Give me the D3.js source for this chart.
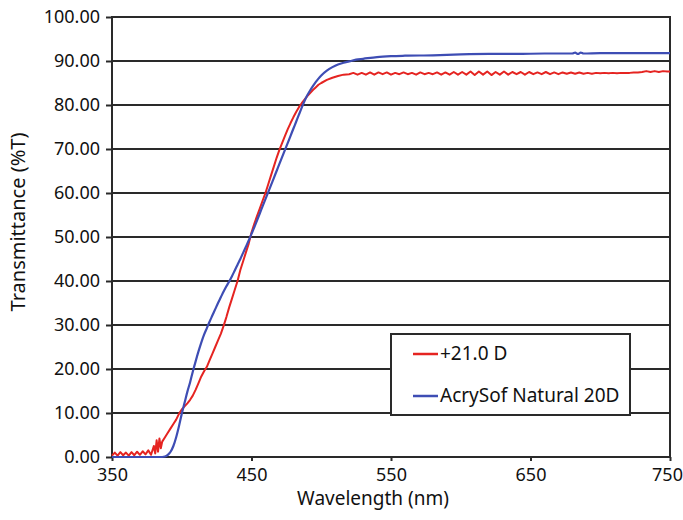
<!DOCTYPE html>
<html>
  <head>
    <meta charset="UTF-8">
    <script src="https://d3js.org/d3.v7.min.js"></script>
    <style>
      body {
        margin: 0;
        background: #fff;
        font-family: "Noto Sans", "Open Sans", sans-serif;
      }
      svg text {
        fill: #111;
      }
    </style>
  </head>
  <body>
    <svg id="chart" width="683" height="520"></svg>
    <script>
      // +21.0 D lens (red)
      const redWavelength = [
        350, 352, 354, 356, 358, 360, 362, 364, 366, 368, 370, 372, 374, 376, 378, 380, 381, 382, 383, 384, 385, 386, 388,
        390, 392, 394, 396, 398, 400, 402, 404, 406, 408, 410, 412, 414, 416, 418, 420, 422, 424, 426, 428, 430, 432, 434,
        436, 438, 440, 442, 444, 446, 448, 450, 452, 454, 456, 458, 460, 462, 464, 466, 468, 470, 472, 474, 476, 478, 480,
        482, 484, 486, 488, 490, 492, 494, 496, 498, 500, 504, 508, 512, 516,
        520, 523, 526, 529, 532, 535, 538, 541, 544, 547, 550, 553, 556, 559, 562, 565, 568, 571, 574, 577, 580, 583, 586,
        589, 592, 595, 598, 601, 604, 607, 610, 613, 616, 619, 622, 625, 628, 631, 634, 637, 640, 643, 646, 649, 652, 655,
        658, 661, 664, 667, 670, 673, 676, 679, 682, 685, 688, 691, 694, 697, 700, 703, 706, 709, 712, 715, 718, 721, 724,
        727, 730, 733, 736, 739, 742, 745, 748, 750
      ];
      const redTransmittance = [
        0.3, 1.0, 0.3, 1.1, 0.4, 1.0, 0.3, 1.1, 0.4, 1.2, 0.5, 1.3, 0.6, 1.5, 0.5, 2.5, 0.8, 3.8, 1.2, 4.2, 2.0, 3.5, 4.5,
        5.5, 6.5, 7.5, 8.5, 9.8, 10.8, 11.5, 12.2, 13.0, 14.0, 15.3, 16.8, 18.3, 19.5, 20.5, 22.0, 23.5, 25.0, 26.5, 28.0, 29.8, 31.8, 34.0,
        36.0, 38.0, 40.0, 42.5, 44.5, 46.5, 48.5, 51.0, 53.0, 54.8, 56.5, 58.3, 60.0, 62.0, 64.0, 66.0, 68.0, 69.8, 71.4, 73.0, 74.5, 75.9, 77.2,
        78.4, 79.5, 80.4, 81.2, 82.0, 82.7, 83.4, 84.0, 84.6, 85.0, 85.7, 86.2, 86.6, 86.9,
        87.0, 87.3, 86.9, 87.3, 86.9, 87.4, 86.9, 87.4, 87.0, 87.4, 86.9, 87.3, 87.0, 87.4, 87.0, 87.3, 86.9, 87.4, 87.0, 87.3, 87.0, 87.4, 86.9,
        87.4, 86.9, 87.5, 86.9, 87.5, 86.9, 87.6, 86.8, 87.6, 86.9, 87.6, 86.8, 87.5, 86.9, 87.6, 86.9, 87.5, 87.0, 87.5, 86.9, 87.5, 87.0, 87.4,
        87.0, 87.5, 87.0, 87.4, 87.0, 87.4, 87.1, 87.4, 87.1, 87.4, 87.1, 87.3, 87.1, 87.3, 87.2, 87.3, 87.2, 87.3, 87.2, 87.3, 87.3, 87.3, 87.4,
        87.4, 87.5, 87.7, 87.5, 87.7, 87.5, 87.7, 87.6, 87.6
      ];

      // AcrySof Natural 20D (blue)
      const blueWavelength = [
        350, 370, 386, 388, 390, 392, 394, 396, 398, 400, 402, 404, 406, 408, 410, 412, 414, 416, 418, 420, 422, 424, 426,
        428, 430, 432, 434, 436, 438, 440, 442, 444, 446, 448, 450, 452, 454, 456, 458, 460, 462, 464, 466, 468, 470, 472,
        474, 476, 478, 480, 482, 484, 486, 488, 490, 492, 494, 496, 498, 500, 504, 508, 512, 516, 520, 525, 530, 540,
        550, 560, 580, 600, 620, 640, 660, 680, 682, 684, 686, 688, 700, 720, 750
      ];
      const blueTransmittance = [
        0.0, 0.0, 0.0, 0.1, 0.5, 1.2, 2.5, 4.5, 7.0, 9.8, 12.3, 14.8, 17.0, 19.5, 21.8, 24.0, 26.0, 27.8, 29.3, 30.8, 32.2, 33.6, 35.0,
        36.3, 37.6, 38.8, 39.9, 41.1, 42.4, 43.7, 45.0, 46.4, 47.8, 49.2, 50.7, 52.2, 53.8, 55.4, 57.0, 58.6, 60.2, 61.8, 63.4, 65.0, 66.6, 68.2,
        69.8, 71.4, 73.0, 74.6, 76.2, 77.8, 79.4, 80.9, 82.2, 83.3, 84.3, 85.2, 86.0, 86.7, 87.8, 88.6, 89.2, 89.6, 89.9, 90.3, 90.5, 90.9,
        91.1, 91.2, 91.3, 91.5, 91.6, 91.6, 91.7, 91.7, 91.9, 91.6, 91.9, 91.7, 91.8, 91.8, 91.8
      ];

      const xTicks = [350, 450, 550, 650, 750];
      const yTicks = [0, 10, 20, 30, 40, 50, 60, 70, 80, 90, 100];
      const seriesNames = ["+21.0 D", "AcrySof Natural 20D"];
      const seriesColors = ["#e52421", "#3e4db4"];

      const svg = d3.select("#chart");
      const plotLeft = 112, plotRight = 670, plotTop = 17, plotBottom = 457;

      const x = d3.scaleLinear().domain([350, 750]).range([plotLeft, plotRight]);
      const y = d3.scaleLinear().domain([0, 100]).range([plotBottom, plotTop]);

      // horizontal grid lines
      svg.append("g")
        .selectAll("line")
        .data(yTicks.filter((d) => d > 0 && d < 100))
        .join("line")
          .attr("x1", plotLeft)
          .attr("x2", plotRight)
          .attr("y1", (d) => y(d))
          .attr("y2", (d) => y(d))
          .attr("stroke", "#2a2a2a")
          .attr("stroke-width", 2);

      // plot frame
      svg.append("rect")
        .attr("x", plotLeft)
        .attr("y", plotTop)
        .attr("width", plotRight - plotLeft)
        .attr("height", plotBottom - plotTop)
        .attr("fill", "none")
        .attr("stroke", "#2a2a2a")
        .attr("stroke-width", 2);

      // axes
      const yAxis = svg.append("g")
        .attr("transform", `translate(${plotLeft},0)`)
        .call(d3.axisLeft(y).tickValues(yTicks).tickFormat(d3.format(".2f")).tickSize(6).tickPadding(6));
      const xAxis = svg.append("g")
        .attr("transform", `translate(0,${plotBottom})`)
        .call(d3.axisBottom(x).tickValues(xTicks).tickSize(4).tickPadding(7));

      [yAxis, xAxis].forEach((ax) => {
        ax.select(".domain").remove();
        ax.selectAll(".tick line").attr("stroke", "#2a2a2a").attr("stroke-width", 2);
        ax.selectAll(".tick text")
          .attr("fill", "#111")
          .style("font-family", "'Noto Sans', sans-serif")
          .style("font-size", "18px");
      });
      // last label sits right against the page edge
      xAxis.selectAll(".tick text").filter((d) => d === 750).attr("dx", -3);

      // curves
      const line = d3.line()
        .x((d) => x(d[0]))
        .y((d) => y(d[1]));

      const redData = d3.zip(redWavelength, redTransmittance);
      const blueData = d3.zip(blueWavelength, blueTransmittance);

      svg.append("path")
        .datum(redData)
        .attr("d", line)
        .attr("fill", "none")
        .attr("stroke", seriesColors[0])
        .attr("stroke-width", 2)
        .attr("stroke-linejoin", "round");

      svg.append("path")
        .datum(blueData)
        .attr("d", line.curve(d3.curveMonotoneX))
        .attr("fill", "none")
        .attr("stroke", seriesColors[1])
        .attr("stroke-width", 2.2);

      // axis titles
      svg.append("text")
        .attr("x", 373)
        .attr("y", 505)
        .attr("text-anchor", "middle")
        .style("font-size", "19px")
        .text("Wavelength (nm)");

      svg.append("text")
        .attr("transform", "translate(25,222) rotate(-90)")
        .attr("text-anchor", "middle")
        .style("font-size", "20px")
        .text("Transmittance (%T)");

      // legend
      const legend = svg.append("g");
      legend.append("rect")
        .attr("x", 391)
        .attr("y", 334)
        .attr("width", 239)
        .attr("height", 81)
        .attr("fill", "#fff")
        .attr("stroke", "#2a2a2a")
        .attr("stroke-width", 2);

      const item = legend.selectAll("g.item")
        .data(seriesNames)
        .join("g")
          .attr("class", "item")
          .attr("transform", (d, i) => `translate(0,${354 + i * 42})`);

      item.append("line")
        .attr("x1", 413)
        .attr("x2", 438)
        .attr("stroke", (d, i) => seriesColors[i])
        .attr("stroke-width", 2.5);

      item.append("text")
        .attr("x", 440)
        .attr("y", 6)
        .style("font-size", "19px")
        .text((d) => d);
    </script>
  </body>
</html>
